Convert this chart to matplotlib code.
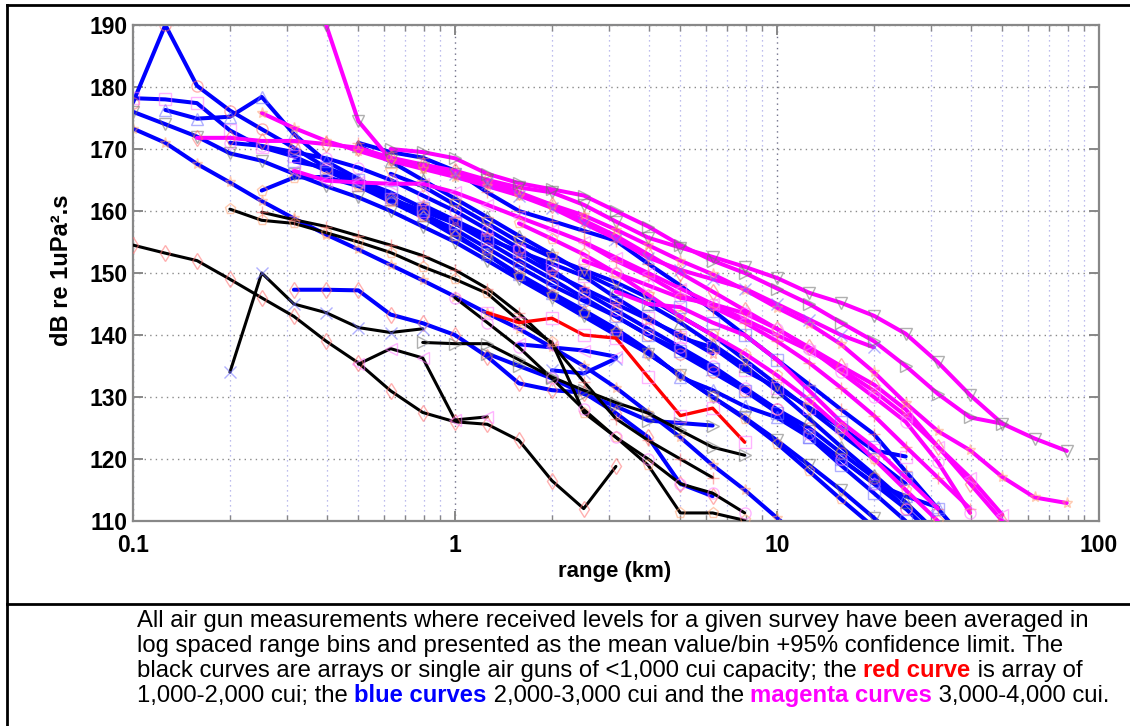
import matplotlib
matplotlib.use('Agg')
import matplotlib.pyplot as plt
from matplotlib.lines import Line2D
from matplotlib.ticker import FixedLocator, FixedFormatter, LogLocator, NullFormatter

plt.rcParams['font.family'] = ['Liberation Sans', 'DejaVu Sans']

# log spaced range bins (km), 10 per decade
bins_km = [0.1, 0.126, 0.158, 0.2, 0.251, 0.316, 0.398, 0.501, 0.631, 0.794,
           1.0, 1.26, 1.58, 2.0, 2.51, 3.16, 3.98, 5.01, 6.31, 7.94,
           10.0, 12.6, 15.8, 20.0, 25.1, 31.6, 39.8, 50.1, 63.1, 79.4]

# each curve: (index of first bin, received levels dB re 1uPa^2.s)
black_curves = [
    (0, [154.5, 153.2, 152, 149, 146, 143, 139, 135.5, 131, 127.5, 126, 125.6, 123, 116.5, 112, 118.8]),
    (7, [135.3, 137.8, 136.3, 126.3, 126.8]),
    (3, [134, 150, 145, 143.6, 141.2, 140.4, 141]),
    (9, [138.8, 138.6, 138.6, 136, 133.2, 131.1, 129.1, 127.4, 124.6, 121.9, 120.6]),
    (3, [160.3, 158.5, 158, 156.5, 155, 153.3, 151, 149, 146.7, 142.3, 138.8, 127.5, 123.5, 119, 111.3, 111.3, 110.1]),
    (4, [159.8, 158.6, 157.5, 156, 154.5, 152.8, 150.5, 147.5, 143.5, 138.5, 132.5, 126.5, 123, 120, 117]),
    (10, [146, 142, 138, 133, 128, 123.5, 120, 116, 114.5, 111.3]),
]

red_curves = [
    (11, [143.6, 142, 142.7, 140, 139.5, 133.2, 127, 128.2, 122.7]),
]

blue_curves = [
    (0, [177.5, 190, 180.2, 176.2, 173.2, 170.2, 167, 164.5, 162, 159.5, 157, 154, 151, 148, 145.5,
         143, 140, 137, 134, 131, 128, 125, 121, 117, 112, 107]),
    (0, [178.2, 178, 177.4, 173, 170.3, 168.8, 166.5, 164.2, 162, 160, 158, 155.5, 153.5, 151.5,
         149.5, 146, 142.8, 139.6, 138, 134.3, 131.5, 128.3, 125.1, 121.4, 120.4]),
    (1, [176.3, 174.9, 175.2, 178.4, 172.4, 168, 165.2, 162.3, 159.3, 156.3, 153, 149.8, 146.8,
         144, 141, 137.5, 133.2, 131.1, 128.5, 126.7, 123.5, 120, 116.1, 114, 112.2]),
    (0, [176, 174, 172, 169.3, 168.1, 166, 164, 162.2, 160, 157.5, 155, 152, 149, 146, 143, 140,
         137, 133.5, 130, 126.7, 123, 119, 115, 110.5, 106]),
    (0, [173.3, 171, 167.6, 164.6, 161.6, 158.8, 156.2, 153.8, 151.3, 148.8, 146.2, 143.5, 141,
         138, 135, 131.5, 127.5, 123.5, 119, 115, 110.5, 106]),
    (5, [147.3, 147.3, 147.2, 143.3, 141.9, 140, 136.5, 132.2, 131.1, 130.7, 127.4, 123.5, 116, 114]),
    (12, [138.5, 138, 137.5, 136.5]),
    (13, [134.3, 133.8, 136.2]),
    (11, [137, 135, 133, 130.5, 128.5, 126.2, 125.8, 125.4]),
    (4, [163.3, 165.4, 165.5, 164, 161.5, 159, 156, 153, 149.5, 146.5, 143.5, 140.5, 137, 133.5,
         130, 126.5, 122.5, 118, 113.5, 109]),
    (7, [171, 169.5, 168.6, 166.5, 163, 160, 158.4, 156.8, 155.2, 151.5, 148, 144, 140, 136, 132,
         128, 124, 118, 112, 106]),
    (3, [171, 170.5, 169.5, 168.5, 167, 165, 162.5, 160, 157, 154, 150.5, 147, 144, 141, 138, 135,
         131.5, 128, 124, 120, 116, 112]),
    (5, [168, 167, 165, 163, 160.5, 158, 155, 152, 149, 146, 143, 140, 137.5, 134.5, 131, 127.5,
         123.5, 119, 114.5, 110]),
    (7, [170.5, 168, 165, 162, 159, 156, 153, 150, 147.5, 145, 142, 138.5, 135, 131, 126.5, 122,
         117.5, 113, 108]),
    (8, [166, 164, 161, 158, 155, 152.5, 150.5, 148.5, 146, 143, 140, 136, 132, 128, 124, 120, 116]),
    (9, [161, 158.5, 156, 153, 150, 147.5, 145, 142.5, 140, 137]),
]

magenta_curves = [
    (6, [190, 174.5, 168.3, 167, 166, 165, 163.8, 163, 161, 158.3, 155.7, 154.1, 152.6, 151, 149.2,
         146.8, 145.2, 143.1, 140.2, 135.6, 130.3, 125.7, 123.3, 121.3]),
    (4, [175.8, 173.4, 171.3, 169.7, 168.1, 166.8, 165.5, 164, 162.5, 161, 159.3, 157, 154.5, 152,
         149.8, 147.3, 144.4, 141.8, 138.5, 134, 129, 124.5, 121.4, 117.1, 113.8, 112.9]),
    (2, [171.8, 171.8, 171.3, 171.3, 170.8, 170.2, 168.6, 167.5, 166.5, 165, 163, 161, 158.5, 156,
         153, 150, 147, 144, 141, 138, 135, 132, 128, 122, 116, 110]),
    (5, [166.5, 164.9, 164.6, 164.4, 164.4, 163, 161, 159, 157, 155, 152.5, 150, 147.5, 145, 142.5,
         140, 137.5, 134.5, 131, 127, 122, 117, 111]),
    (10, [166, 164.5, 162.5, 160.5, 158, 155.5, 152.5, 150.5, 149, 147.5, 145, 142.5, 140, 138]),
    (8, [170, 169.5, 168.5, 166, 164.5, 163.5, 162.5, 160, 157.5, 154.5, 152, 150, 147.5, 145, 142,
         139, 135, 130.5, 126.7, 125.7]),
    (12, [158, 155.5, 153, 150, 146.5, 143, 140, 137, 133.5, 129.5, 125, 120, 115, 110]),
    (14, [155, 152, 149.5, 146.5, 144.5, 142, 139, 135.5, 131.5, 127, 122, 117, 112]),
    (14, [152, 150, 148, 146, 145, 143.5, 141, 137.8, 134, 130, 126, 119.5, 111.3]),
    (15, [147, 145, 144.5, 142, 140, 136, 131, 126, 121.9, 117, 112]),
]

x_ticks = [0.1, 1, 10, 100]
x_tick_labels = ['0.1', '1', '10', '100']
y_ticks = [110, 120, 130, 140, 150, 160, 170, 180, 190]

marker_shapes = ['o', 's', '^', 'v', '*', 'd', '<', 'x', '>', 'p', '+']
marker_colors = ['#ff6f6f', '#ff77ff', '#6f6fff', '#707070', '#ffa070']

W, H = 1130, 726
fig = plt.figure(figsize=(W / 100, H / 100), dpi=100)
ax = fig.add_axes([133 / W, 1 - 521 / H, (1099 - 133) / W, (521 - 25) / H])


def draw(curves, color, lw, offset, z):
    for i, (start, levels) in enumerate(curves):
        xs = bins_km[start:start + len(levels)]
        j = i + offset
        ax.plot(xs, levels, color=color, lw=lw, zorder=z, solid_capstyle='round')
        ax.plot(xs, levels, ls='none', marker=marker_shapes[j % len(marker_shapes)],
                mec=marker_colors[j % len(marker_colors)], mfc='none', ms=8, mew=1.0,
                alpha=0.55, zorder=z + 0.5)


draw(blue_curves, '#0000ff', 2.9, 0, 2)
draw(magenta_curves, '#ff00ff', 2.9, 3, 3)
draw(black_curves, '#000000', 2.2, 5, 4)
draw(red_curves, '#ff0000', 2.4, 1, 5)

ax.set_xscale('log')
ax.set_xlim(0.1, 100)
ax.set_ylim(110, 190)
ax.xaxis.set_major_locator(FixedLocator(x_ticks))
ax.xaxis.set_major_formatter(FixedFormatter(x_tick_labels))
ax.xaxis.set_minor_locator(LogLocator(base=10, subs=range(2, 10)))
ax.xaxis.set_minor_formatter(NullFormatter())
ax.yaxis.set_major_locator(FixedLocator(y_ticks))

ax.grid(which='major', axis='y', ls=(0, (1, 3)), color='#8a8a8a', lw=1.0)
ax.grid(which='major', axis='x', ls=(0, (1, 3)), color='#70708a', lw=1.0)
ax.grid(which='minor', axis='x', ls=(0, (1, 3)), color='#a8a8e8', lw=0.9)
ax.set_axisbelow(True)

for s in ax.spines.values():
    s.set_color('#888888')
    s.set_linewidth(1.6)
ax.tick_params(which='both', direction='in', top=True, right=True, color='#888888')
ax.tick_params(which='major', length=7, width=1.4, labelsize=16.5)
ax.tick_params(which='minor', length=4, width=1.0)
ax.tick_params(axis='x', pad=9)
ax.tick_params(axis='y', pad=4)
for lab in ax.get_xticklabels() + ax.get_yticklabels():
    lab.set_fontweight('bold')

fig.text(615 / W, 1 - 572 / H, 'range (km)', ha='center', va='center',
         fontsize=16, fontweight='bold')
fig.text(62 / W, 1 - 270 / H, 'dB re 1uPa\u00b2.s', ha='center', va='center',
         rotation=90, fontsize=17, fontweight='bold')

# table frame lines
fig.add_artist(Line2D([7 / W, 7 / W], [0, 1 - 5 / H], transform=fig.transFigure, color='black', lw=2))
fig.add_artist(Line2D([7 / W, 1], [1 - 5 / H, 1 - 5 / H], transform=fig.transFigure, color='black', lw=2))
fig.add_artist(Line2D([7 / W, 1], [1 - 604 / H, 1 - 604 / H], transform=fig.transFigure, color='black', lw=2))

# caption with coloured words
cap_size = 17.2
cap_x = 137 / W
cap_lines = [
    [('All air gun measurements where received levels for a given survey have been averaged in', 'black', 'normal')],
    [('log spaced range bins and presented as the mean value/bin +95% confidence limit. The', 'black', 'normal')],
    [('black curves are arrays or single air guns of <1,000 cui capacity; the ', 'black', 'normal'),
     ('red curve', '#ff0000', 'bold'), (' is array of', 'black', 'normal')],
    [('1,000-2,000 cui; the ', 'black', 'normal'), ('blue curves', '#0000ff', 'bold'),
     (' 2,000-3,000 cui and the ', 'black', 'normal'), ('magenta curves', '#ff00ff', 'bold'),
     (' 3,000-4,000 cui.', 'black', 'normal')],
]
cap_y = [627, 652, 677, 702]
for line, yb in zip(cap_lines, cap_y):
    prev = None
    for txt, col, wt in line:
        if prev is None:
            prev = fig.text(cap_x, 1 - yb / H, txt, color=col, fontweight=wt,
                            fontsize=cap_size, ha='left', va='baseline')
        else:
            prev = ax.annotate(txt, xy=(1, 0), xycoords=prev, color=col, fontweight=wt,
                               fontsize=cap_size, ha='left', va='bottom')

fig.savefig('out.png', dpi=100)
